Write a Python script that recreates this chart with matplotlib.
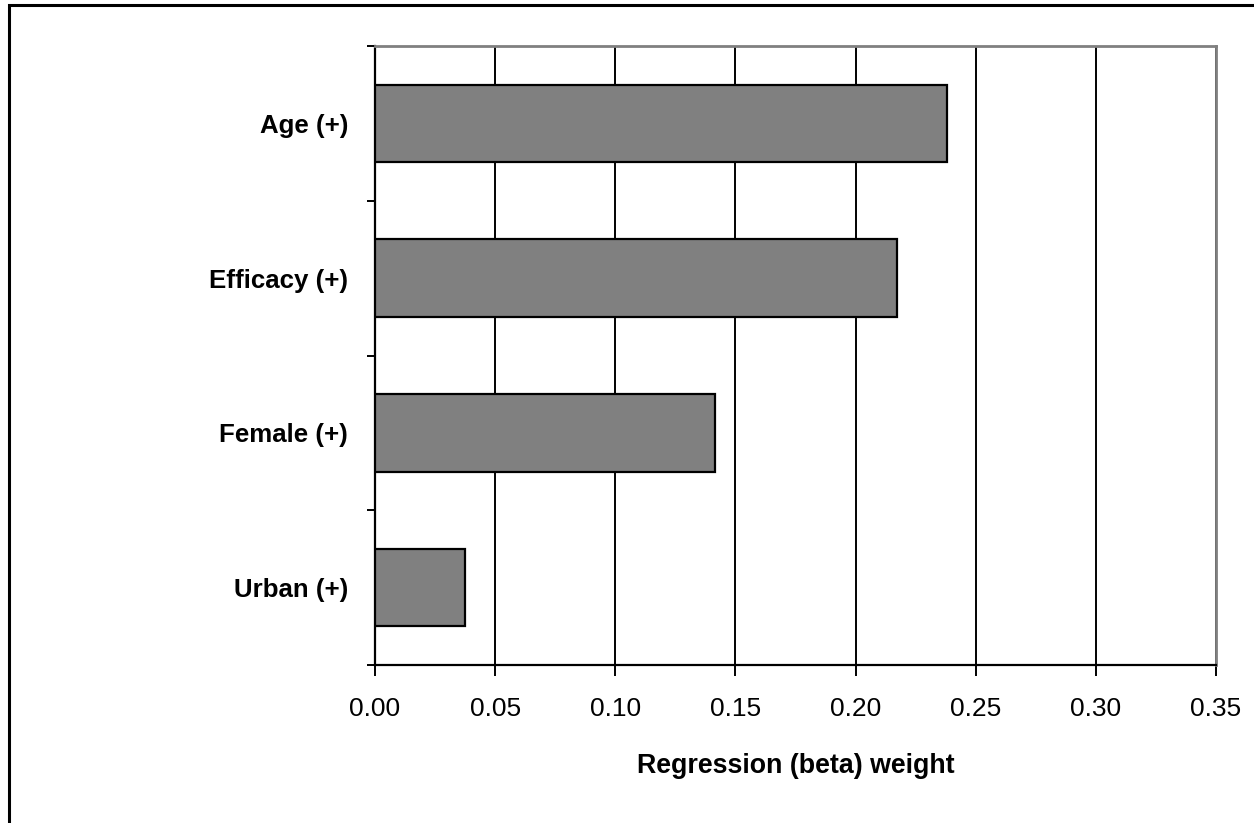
import matplotlib
matplotlib.use("Agg")
import matplotlib.pyplot as plt
from matplotlib.patches import Rectangle
from matplotlib.ticker import MultipleLocator, FixedLocator, NullFormatter, FormatStrFormatter

plt.rcParams['font.family'] = ['Liberation Sans', 'DejaVu Sans']

categories = ["Urban (+)", "Female (+)", "Efficacy (+)", "Age (+)"]
weights = [0.0374, 0.1414, 0.2171, 0.2379]
xlabel = "Regression (beta) weight"

W, H = 1254, 823
fig = plt.figure(figsize=(W / 100, H / 100), dpi=100)
ax = fig.add_axes([375 / W, 1 - 665 / H, (1216 - 375) / W, (665 - 46) / H])

ypos = list(range(len(categories)))
ax.barh(ypos, weights, height=0.5, color="#808080", edgecolor="black",
        linewidth=1.6, zorder=3)

ax.set_xlim(0, 0.35)
ax.set_ylim(-0.5, len(categories) - 0.5)
ax.xaxis.set_major_locator(MultipleLocator(0.05))
ax.xaxis.set_major_formatter(FormatStrFormatter("%.2f"))
ax.grid(axis="x", color="black", linewidth=1.4, zorder=1)

# category labels sit between the boundary ticks
ax.yaxis.set_major_locator(FixedLocator([i - 0.5 for i in range(len(categories) + 1)]))
ax.yaxis.set_major_formatter(NullFormatter())
ax.yaxis.set_minor_locator(FixedLocator(ypos))
ax.set_yticklabels(categories, minor=True, fontsize=18.6, fontweight="bold")
ax.tick_params(axis="y", which="minor", length=0, pad=19.5)
ax.tick_params(axis="y", which="major", length=6, width=1.4, direction="out")
ax.tick_params(axis="x", length=8, width=1.4, direction="out", pad=15,
               labelsize=19)

for side in ("left", "bottom"):
    ax.spines[side].set_color("black")
    ax.spines[side].set_linewidth(1.6)
for side in ("top", "right"):
    ax.spines[side].set_color("#808080")
    ax.spines[side].set_linewidth(2.0)

ax.set_xlabel(xlabel, fontsize=19.3, fontweight="bold", labelpad=23)

# outer frame of the chart area
fig.patches.append(Rectangle((9 / W, -0.2), 1.2, 1.2 - 5 / H,
                             transform=fig.transFigure, fill=False,
                             edgecolor="black", linewidth=2.2))

fig.savefig("out.png", dpi=100)
